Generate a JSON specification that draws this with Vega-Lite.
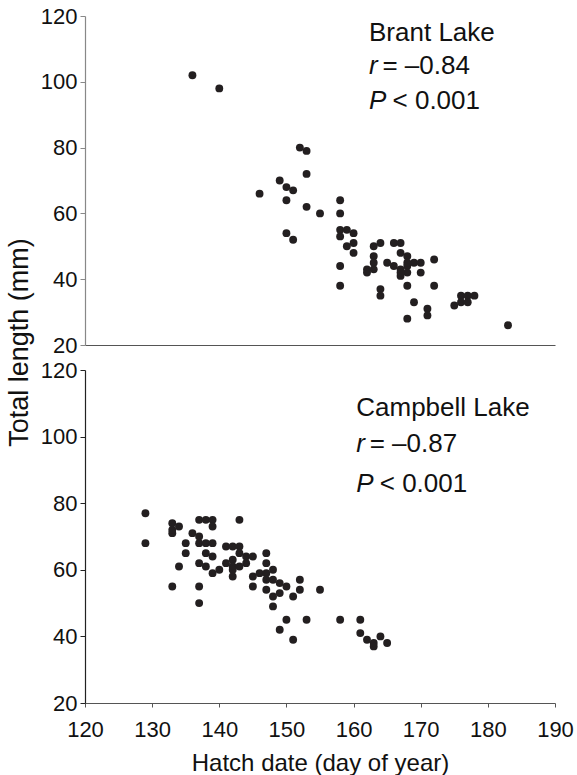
{
  "$schema": "https://vega.github.io/schema/vega-lite/v6.json",
  "padding": {"left": 5, "top": 5, "right": 0, "bottom": 0},
  "bounds": "flush",
  "spacing": 25,
  "config": {
    "view": {"stroke": null},
    "font": "Liberation Sans",
    "axis": {"grid": false, "labelFont": "Liberation Sans", "titleFont": "Liberation Sans", "labelFontSize": 22, "titleFontSize": 24, "labelColor": "#111", "titleColor": "#111", "titleFontWeight": "normal", "tickSize": 5, "labelPadding": 3, "labelFlush": false}
  },
  "datasets": {
    "fish": [
      {"lake": "Brant", "day": 136, "len": 102}, {"lake": "Brant", "day": 140, "len": 98}, {"lake": "Brant", "day": 152, "len": 80}, {"lake": "Brant", "day": 153, "len": 79}, {"lake": "Brant", "day": 153, "len": 72}, {"lake": "Brant", "day": 149, "len": 70}, {"lake": "Brant", "day": 150, "len": 68}, {"lake": "Brant", "day": 151, "len": 67}, {"lake": "Brant", "day": 146, "len": 66}, {"lake": "Brant", "day": 150, "len": 64}, {"lake": "Brant", "day": 153, "len": 62}, {"lake": "Brant", "day": 155, "len": 60}, {"lake": "Brant", "day": 158, "len": 64}, {"lake": "Brant", "day": 158, "len": 60}, {"lake": "Brant", "day": 150, "len": 54}, {"lake": "Brant", "day": 151, "len": 52}, {"lake": "Brant", "day": 158, "len": 55}, {"lake": "Brant", "day": 159, "len": 55}, {"lake": "Brant", "day": 160, "len": 54}, {"lake": "Brant", "day": 158, "len": 53}, {"lake": "Brant", "day": 159, "len": 50}, {"lake": "Brant", "day": 160, "len": 51}, {"lake": "Brant", "day": 160, "len": 48}, {"lake": "Brant", "day": 158, "len": 44}, {"lake": "Brant", "day": 158, "len": 38}, {"lake": "Brant", "day": 163, "len": 50}, {"lake": "Brant", "day": 164, "len": 51}, {"lake": "Brant", "day": 163, "len": 47}, {"lake": "Brant", "day": 163, "len": 45}, {"lake": "Brant", "day": 162, "len": 43}, {"lake": "Brant", "day": 162, "len": 42}, {"lake": "Brant", "day": 163, "len": 43}, {"lake": "Brant", "day": 165, "len": 45}, {"lake": "Brant", "day": 166, "len": 44}, {"lake": "Brant", "day": 166, "len": 51}, {"lake": "Brant", "day": 167, "len": 51}, {"lake": "Brant", "day": 167, "len": 48}, {"lake": "Brant", "day": 168, "len": 47}, {"lake": "Brant", "day": 169, "len": 45}, {"lake": "Brant", "day": 170, "len": 45}, {"lake": "Brant", "day": 170, "len": 42}, {"lake": "Brant", "day": 168, "len": 44}, {"lake": "Brant", "day": 167, "len": 43}, {"lake": "Brant", "day": 167, "len": 41}, {"lake": "Brant", "day": 168, "len": 42}, {"lake": "Brant", "day": 167, "len": 42}, {"lake": "Brant", "day": 172, "len": 46}, {"lake": "Brant", "day": 172, "len": 38}, {"lake": "Brant", "day": 168, "len": 38}, {"lake": "Brant", "day": 164, "len": 37}, {"lake": "Brant", "day": 164, "len": 35}, {"lake": "Brant", "day": 169, "len": 33}, {"lake": "Brant", "day": 168, "len": 28}, {"lake": "Brant", "day": 171, "len": 31}, {"lake": "Brant", "day": 171, "len": 29}, {"lake": "Brant", "day": 175, "len": 32}, {"lake": "Brant", "day": 176, "len": 35}, {"lake": "Brant", "day": 177, "len": 35}, {"lake": "Brant", "day": 178, "len": 35}, {"lake": "Brant", "day": 176, "len": 33}, {"lake": "Brant", "day": 177, "len": 33}, {"lake": "Brant", "day": 183, "len": 26}, {"lake": "Brant", "day": 168, "len": 45},
      {"lake": "Campbell", "day": 129, "len": 77}, {"lake": "Campbell", "day": 129, "len": 68}, {"lake": "Campbell", "day": 133, "len": 74}, {"lake": "Campbell", "day": 134, "len": 73}, {"lake": "Campbell", "day": 133, "len": 71}, {"lake": "Campbell", "day": 133, "len": 72}, {"lake": "Campbell", "day": 135, "len": 68}, {"lake": "Campbell", "day": 135, "len": 65}, {"lake": "Campbell", "day": 134, "len": 61}, {"lake": "Campbell", "day": 133, "len": 55}, {"lake": "Campbell", "day": 136, "len": 71}, {"lake": "Campbell", "day": 137, "len": 70}, {"lake": "Campbell", "day": 137, "len": 68}, {"lake": "Campbell", "day": 137, "len": 75}, {"lake": "Campbell", "day": 138, "len": 75}, {"lake": "Campbell", "day": 139, "len": 75}, {"lake": "Campbell", "day": 139, "len": 73}, {"lake": "Campbell", "day": 138, "len": 68}, {"lake": "Campbell", "day": 139, "len": 68}, {"lake": "Campbell", "day": 138, "len": 65}, {"lake": "Campbell", "day": 139, "len": 64}, {"lake": "Campbell", "day": 137, "len": 62}, {"lake": "Campbell", "day": 138, "len": 61}, {"lake": "Campbell", "day": 139, "len": 59}, {"lake": "Campbell", "day": 140, "len": 60}, {"lake": "Campbell", "day": 137, "len": 55}, {"lake": "Campbell", "day": 137, "len": 50}, {"lake": "Campbell", "day": 143, "len": 75}, {"lake": "Campbell", "day": 141, "len": 67}, {"lake": "Campbell", "day": 142, "len": 67}, {"lake": "Campbell", "day": 143, "len": 67}, {"lake": "Campbell", "day": 143, "len": 65}, {"lake": "Campbell", "day": 144, "len": 64}, {"lake": "Campbell", "day": 145, "len": 64}, {"lake": "Campbell", "day": 141, "len": 62}, {"lake": "Campbell", "day": 142, "len": 63}, {"lake": "Campbell", "day": 142, "len": 61}, {"lake": "Campbell", "day": 143, "len": 61}, {"lake": "Campbell", "day": 144, "len": 62}, {"lake": "Campbell", "day": 142, "len": 58}, {"lake": "Campbell", "day": 142, "len": 60}, {"lake": "Campbell", "day": 145, "len": 58}, {"lake": "Campbell", "day": 146, "len": 59}, {"lake": "Campbell", "day": 147, "len": 59}, {"lake": "Campbell", "day": 145, "len": 55}, {"lake": "Campbell", "day": 147, "len": 65}, {"lake": "Campbell", "day": 147, "len": 62}, {"lake": "Campbell", "day": 148, "len": 60}, {"lake": "Campbell", "day": 147, "len": 57}, {"lake": "Campbell", "day": 148, "len": 57}, {"lake": "Campbell", "day": 149, "len": 56}, {"lake": "Campbell", "day": 150, "len": 55}, {"lake": "Campbell", "day": 147, "len": 54}, {"lake": "Campbell", "day": 148, "len": 52}, {"lake": "Campbell", "day": 149, "len": 53}, {"lake": "Campbell", "day": 148, "len": 49}, {"lake": "Campbell", "day": 151, "len": 52}, {"lake": "Campbell", "day": 152, "len": 57}, {"lake": "Campbell", "day": 152, "len": 54}, {"lake": "Campbell", "day": 155, "len": 54}, {"lake": "Campbell", "day": 150, "len": 45}, {"lake": "Campbell", "day": 153, "len": 45}, {"lake": "Campbell", "day": 149, "len": 42}, {"lake": "Campbell", "day": 151, "len": 39}, {"lake": "Campbell", "day": 158, "len": 45}, {"lake": "Campbell", "day": 161, "len": 45}, {"lake": "Campbell", "day": 161, "len": 41}, {"lake": "Campbell", "day": 162, "len": 39}, {"lake": "Campbell", "day": 163, "len": 38}, {"lake": "Campbell", "day": 163, "len": 37}, {"lake": "Campbell", "day": 164, "len": 40}, {"lake": "Campbell", "day": 165, "len": 38}
    ],
    "plain": [
      {"lake": "Brant", "day": 162.3, "len": 112.4, "label": "Brant Lake"},
      {"lake": "Brant", "day": 164.3, "len": 102.3, "label": "= –0.84"},
      {"lake": "Brant", "day": 165.8, "len": 91.6, "label": "< 0.001"},
      {"lake": "Campbell", "day": 160.4, "len": 106.1, "label": "Campbell Lake"},
      {"lake": "Campbell", "day": 162.4, "len": 95.3, "label": "= –0.87"},
      {"lake": "Campbell", "day": 163.9, "len": 83.3, "label": "< 0.001"}
    ],
    "ital": [
      {"lake": "Brant", "day": 162.3, "len": 102.3, "label": "r"},
      {"lake": "Brant", "day": 162.3, "len": 91.6, "label": "P"},
      {"lake": "Campbell", "day": 160.4, "len": 95.3, "label": "r"},
      {"lake": "Campbell", "day": 160.4, "len": 83.3, "label": "P"}
    ]
  },
  "vconcat": [
    {
      "width": 470,
      "height": 329,
      "layer": [
        {
          "data": {"name": "fish"},
          "transform": [{"filter": "datum.lake === 'Brant'"}],
          "mark": {"type": "circle", "size": 62, "color": "#231f20", "opacity": 1},
          "encoding": {
            "x": {"field": "day", "type": "quantitative", "scale": {"domain": [120, 190], "nice": false, "zero": false},
                  "axis": {"title": null, "labels": false, "ticks": false, "domainColor": "#555", "domainWidth": 1.2}},
            "y": {"field": "len", "type": "quantitative", "scale": {"domain": [20, 120], "nice": false, "zero": false},
                  "axis": {"title": null, "values": [20, 40, 60, 80, 100, 120], "domainColor": "#888", "tickColor": "#888", "domainWidth": 1.2}}
          }
        },
        {
          "data": {"name": "plain"},
          "transform": [{"filter": "datum.lake === 'Brant'"}],
          "mark": {"type": "text", "align": "left", "baseline": "alphabetic", "fontSize": 26, "color": "#111"},
          "encoding": {"x": {"field": "day", "type": "quantitative"}, "y": {"field": "len", "type": "quantitative"}, "text": {"field": "label"}}
        },
        {
          "data": {"name": "ital"},
          "transform": [{"filter": "datum.lake === 'Brant'"}],
          "mark": {"type": "text", "align": "left", "baseline": "alphabetic", "fontSize": 26, "fontStyle": "italic", "color": "#111"},
          "encoding": {"x": {"field": "day", "type": "quantitative"}, "y": {"field": "len", "type": "quantitative"}, "text": {"field": "label"}}
        }
      ]
    },
    {
      "width": 470,
      "height": 333,
      "layer": [
        {
          "data": {"name": "fish"},
          "transform": [{"filter": "datum.lake === 'Campbell'"}],
          "mark": {"type": "circle", "size": 62, "color": "#231f20", "opacity": 1},
          "encoding": {
            "x": {"field": "day", "type": "quantitative", "scale": {"domain": [120, 190], "nice": false, "zero": false},
                  "axis": {"title": "Hatch date (day of year)", "values": [120, 130, 140, 150, 160, 170, 180, 190], "domainColor": "#555", "tickColor": "#555", "domainWidth": 1.2, "tickSize": 4, "labelPadding": 12, "titlePadding": 11}},
            "y": {"field": "len", "type": "quantitative", "scale": {"domain": [20, 120], "nice": false, "zero": false},
                  "axis": {"title": "Total length (mm)", "titleFontSize": 27, "values": [20, 40, 60, 80, 100, 120], "domainColor": "#222", "tickColor": "#222", "domainWidth": 1.2, "titleX": -66, "titleY": -28, "titleBaseline": "middle", "titleAlign": "center", "titleAngle": -90}}
          }
        },
        {
          "data": {"name": "plain"},
          "transform": [{"filter": "datum.lake === 'Campbell'"}],
          "mark": {"type": "text", "align": "left", "baseline": "alphabetic", "fontSize": 26, "color": "#111"},
          "encoding": {"x": {"field": "day", "type": "quantitative"}, "y": {"field": "len", "type": "quantitative"}, "text": {"field": "label"}}
        },
        {
          "data": {"name": "ital"},
          "transform": [{"filter": "datum.lake === 'Campbell'"}],
          "mark": {"type": "text", "align": "left", "baseline": "alphabetic", "fontSize": 26, "fontStyle": "italic", "color": "#111"},
          "encoding": {"x": {"field": "day", "type": "quantitative"}, "y": {"field": "len", "type": "quantitative"}, "text": {"field": "label"}}
        }
      ]
    }
  ]
}
